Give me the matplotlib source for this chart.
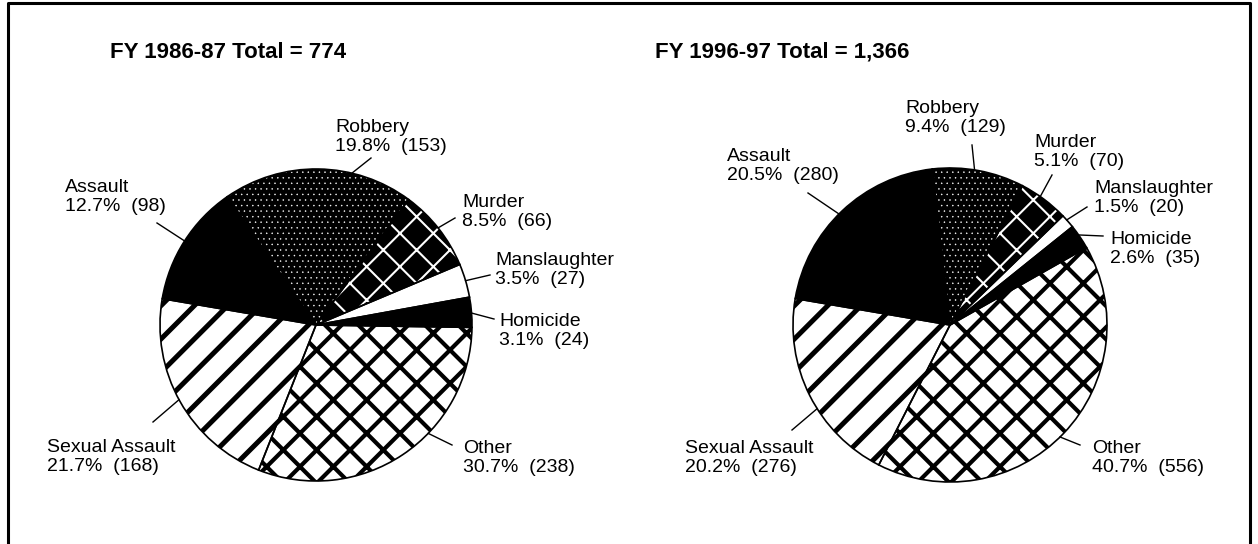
import numpy as np
import matplotlib
matplotlib.use("Agg")
import matplotlib.pyplot as plt

plt.rcParams['font.family'] = ['Liberation Sans', 'DejaVu Sans']
plt.rcParams['hatch.linewidth'] = 2.0

# data
categories = ["Robbery", "Murder", "Manslaughter", "Homicide", "Other", "Sexual Assault", "Assault"]
counts_8687 = [153, 66, 27, 24, 238, 168, 98]
counts_9697 = [129, 70, 20, 35, 556, 276, 280]
years = ["FY 1986-87", "FY 1996-97"]

# fill style per category: face, hatch, hatch colour, hatch width
styles = {
    "Robbery":        ("black", "...", "white", 0.3),
    "Murder":         ("black", "x",   "white", 1.5),
    "Manslaughter":   ("white", None,  "white", 1.0),
    "Homicide":       ("black", None,  "black", 1.0),
    "Other":          ("white", "x",   "black", 3.0),
    "Sexual Assault": ("white", "/",   "black", 3.6),
    "Assault":        ("black", None,  "black", 1.0),
}

W, H = 1258, 544

def Y(y):
    return H - y

# layout in pixels: pie centre, radius, start angle, title x,
# then per category: text x, text y (block centre), leader angle on rim, leader end x, y
layouts = [
    dict(center=(316, 325), r=156, start=124.7, title_x=228, labels={
        "Robbery":        (335, 137, 76.7, 371, 158),
        "Murder":         (462, 212, 38.5, 455, 218),
        "Manslaughter":   (495, 270, 16.5, 490, 275),
        "Homicide":       (499, 331, 4.4, 494, 319),
        "Other":          (463, 458, -44.0, 452, 445),
        "Sexual Assault": (47, 457, 208.6, 153, 422),
        "Assault":        (65, 197, 147.4, 157, 223),
    }),
    dict(center=(950, 325), r=157, start=96.5, title_x=782, labels={
        "Robbery":        (905, 118, 81.0, 972, 145),
        "Murder":         (1034, 152, 54.9, 1052, 175),
        "Manslaughter":   (1094, 198, 42.0, 1087, 207),
        "Homicide":       (1110, 249, 35.0, 1103, 236),
        "Other":          (1092, 458, -45.5, 1080, 445),
        "Sexual Assault": (685, 458, 212.2, 792, 430),
        "Assault":        (727, 166, 135.0, 808, 193),
    }),
]

fig = plt.figure(figsize=(W / 100, H / 100), dpi=100)
ax = fig.add_axes([0, 0, 1, 1])

for counts, year, lay in zip([counts_8687, counts_9697], years, layouts):
    cx, cy = lay["center"]
    r = lay["r"]
    wedges, _ = ax.pie(counts, startangle=lay["start"], counterclock=False,
                       center=(cx, Y(cy)), radius=r, frame=True)
    for w, cat in zip(wedges, categories):
        face, hatch, hcol, hlw = styles[cat]
        w.set_facecolor(face)
        w.set_edgecolor(hcol)
        w.set_linewidth(0)
        if hatch:
            w.set_hatch(hatch)
            if hasattr(w, "set_hatch_linewidth"):
                w.set_hatch_linewidth(hlw)
    # outlines on top
    ax.pie(counts, startangle=lay["start"], counterclock=False,
           center=(cx, Y(cy)), radius=r, frame=True, colors=["none"] * len(counts),
           wedgeprops=dict(edgecolor="black", linewidth=1.2))

    total = sum(counts)
    ax.text(lay["title_x"], Y(52), f"{year} Total = {total:,}", ha="center", va="center",
            fontsize=16, fontweight="bold")

    for cat, n in zip(categories, counts):
        tx, ty, ang, lx, ly = lay["labels"][cat]
        pct = 100 * n / total
        ax.text(tx, Y(ty), f"{cat}\n{pct:.1f}%  ({n})", ha="left", va="center",
                fontsize=14, linespacing=1.12)
        ex = cx + r * np.cos(np.radians(ang))
        ey = Y(cy) + r * np.sin(np.radians(ang))
        ax.plot([ex, lx], [ey, Y(ly)], color="black", linewidth=1.0)

# frame round the whole figure
ax.plot([8, 8, 1250, 1250], [Y(548), Y(3), Y(3), Y(548)], color="black", linewidth=2.2)

ax.set_xlim(0, W)
ax.set_ylim(0, H)
ax.set_aspect("equal")
ax.axis("off")

fig.savefig("out.png", dpi=100)
